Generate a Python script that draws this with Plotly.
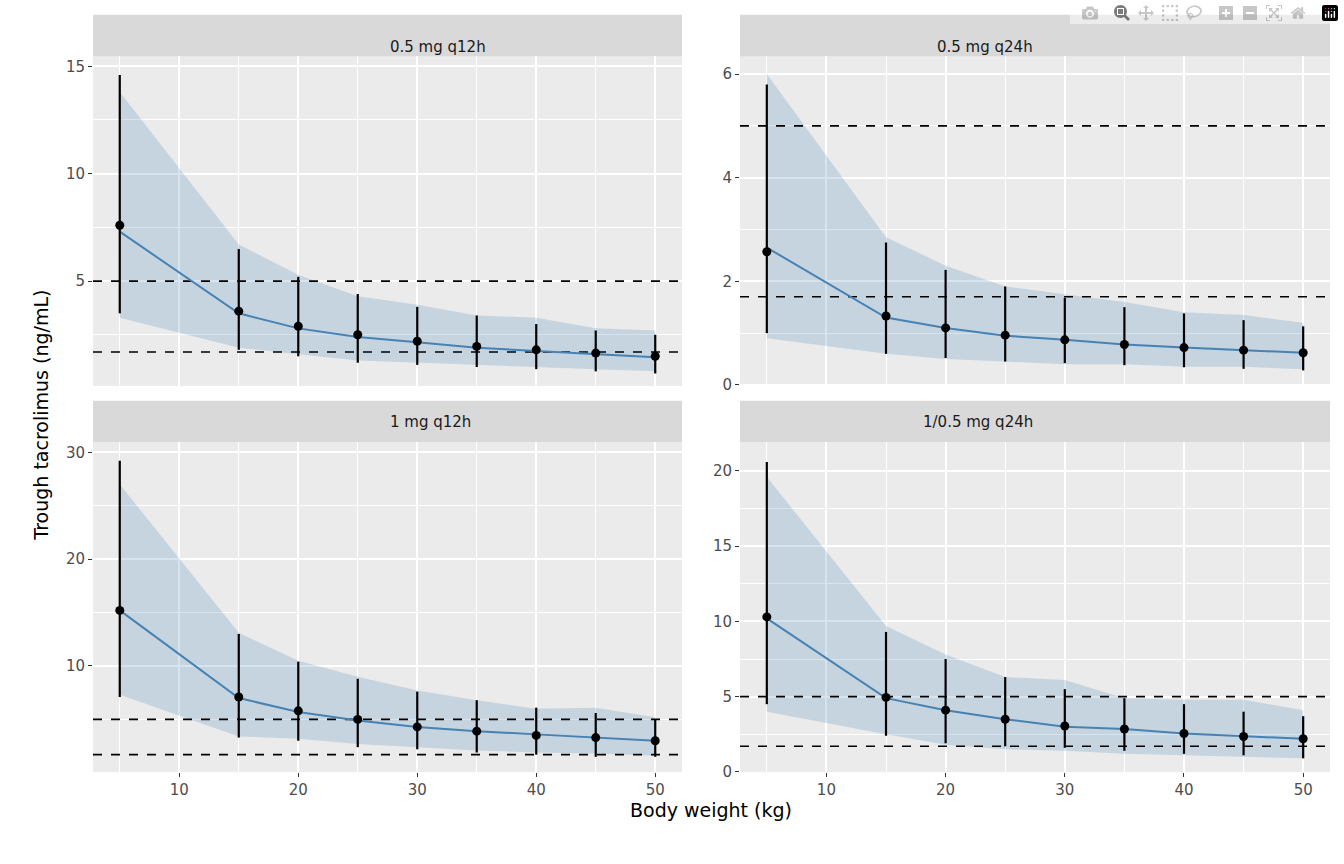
import plotly.graph_objects as go

weights = [5, 15, 20, 25, 30, 35, 40, 45, 50]
panels = ["0.5 mg q12h", "0.5 mg q24h", "1 mg q12h", "1/0.5 mg q24h"]

median = {
    "0.5 mg q12h": [7.6, 3.6, 2.9, 2.5, 2.2, 1.96, 1.8, 1.65, 1.5],
    "0.5 mg q24h": [2.57, 1.33, 1.1, 0.96, 0.87, 0.78, 0.72, 0.67, 0.62],
    "1 mg q12h": [15.2, 7.1, 5.8, 5.0, 4.3, 3.9, 3.5, 3.3, 3.0],
    "1/0.5 mg q24h": [10.3, 4.95, 4.1, 3.5, 3.05, 2.85, 2.55, 2.35, 2.2],
}
bar_lo = {
    "0.5 mg q12h": [3.5, 1.8, 1.5, 1.2, 1.1, 1.0, 0.9, 0.8, 0.7],
    "0.5 mg q24h": [1.0, 0.6, 0.52, 0.45, 0.42, 0.38, 0.34, 0.31, 0.28],
    "1 mg q12h": [7.1, 3.3, 3.0, 2.4, 2.2, 1.9, 1.7, 1.5, 1.5],
    "1/0.5 mg q24h": [4.5, 2.4, 1.9, 1.7, 1.6, 1.4, 1.2, 1.1, 0.9],
}
bar_hi = {
    "0.5 mg q12h": [14.6, 6.5, 5.2, 4.4, 3.8, 3.4, 3.0, 2.7, 2.5],
    "0.5 mg q24h": [5.8, 2.75, 2.22, 1.9, 1.68, 1.5, 1.38, 1.25, 1.13],
    "1 mg q12h": [29.2, 13.0, 10.4, 8.8, 7.6, 6.8, 6.1, 5.6, 5.0],
    "1/0.5 mg q24h": [20.6, 9.3, 7.5, 6.3, 5.5, 4.9, 4.5, 4.0, 3.7],
}
line_val = {
    "0.5 mg q12h": [7.3, 3.5, 2.8, 2.4, 2.15, 1.9, 1.75, 1.6, 1.45],
    "0.5 mg q24h": [2.65, 1.3, 1.1, 0.95, 0.87, 0.78, 0.72, 0.67, 0.62],
    "1 mg q12h": [15.2, 7.0, 5.7, 4.9, 4.3, 3.9, 3.6, 3.3, 3.0],
    "1/0.5 mg q24h": [10.2, 4.9, 4.1, 3.5, 3.0, 2.85, 2.55, 2.35, 2.2],
}
rib_lo = {
    "0.5 mg q12h": [3.3, 1.9, 1.6, 1.3, 1.2, 1.1, 1.0, 0.9, 0.8],
    "0.5 mg q24h": [0.9, 0.6, 0.5, 0.45, 0.4, 0.4, 0.35, 0.35, 0.3],
    "1 mg q12h": [7.3, 3.4, 3.2, 2.7, 2.4, 2.1, 1.9, 1.8, 1.6],
    "1/0.5 mg q24h": [4.0, 2.5, 1.8, 1.5, 1.4, 1.2, 1.1, 1.0, 0.9],
}
rib_hi = {
    "0.5 mg q12h": [13.8, 6.7, 5.3, 4.3, 3.9, 3.4, 3.3, 2.8, 2.7],
    "0.5 mg q24h": [6.0, 2.85, 2.3, 1.9, 1.75, 1.6, 1.4, 1.35, 1.2],
    "1 mg q12h": [27.0, 13.1, 10.5, 9.0, 7.7, 6.8, 6.0, 6.1, 5.2],
    "1/0.5 mg q24h": [19.6, 9.7, 7.8, 6.3, 6.1, 4.9, 4.8, 4.8, 4.1],
}
targets = [5, 1.7]
y_ranges = {"0.5 mg q12h": [0.12, 15.46], "0.5 mg q24h": [-0.02, 6.34],
            "1 mg q12h": [0.09, 30.93], "1/0.5 mg q24h": [0.0, 21.9]}
y_dticks = {"0.5 mg q12h": 5, "0.5 mg q24h": 2, "1 mg q12h": 10, "1/0.5 mg q24h": 5}

W, H = 1344, 864
px = [(93, 682), (740, 1330)]
py = [(57, 390), (447, 780)]
strips = [(15, 57), (405, 447)]

fig = go.Figure()
layout = dict(width=W, height=H, margin=dict(l=0, r=0, t=0, b=0),
              paper_bgcolor="white", plot_bgcolor="#ebebeb", showlegend=False,
              font=dict(family="DejaVu Sans", size=15, color="#4d4d4d"))
shapes, annotations = [], []
for i, p in enumerate(panels):
    r, c = divmod(i, 2)
    n = i + 1
    xa = "x" if n == 1 else f"x{n}"
    ya = "y" if n == 1 else f"y{n}"
    xd = [px[c][0] / W, px[c][1] / W]
    yd = [1 - py[r][1] / H, 1 - py[r][0] / H]
    layout["xaxis" if n == 1 else f"xaxis{n}"] = dict(
        domain=xd, anchor=ya, range=[2.75, 52.25], tick0=0, dtick=10,
        showgrid=True, gridcolor="white", gridwidth=1.6, zeroline=False,
        minor=dict(dtick=5, tick0=0, showgrid=True, gridcolor="white", gridwidth=0.7),
        showticklabels=(r == 1), ticks="outside" if r == 1 else "", ticklen=4,
        tickcolor="#333333", tickfont=dict(size=15, color="#4d4d4d"))
    dt = y_dticks[p]
    layout["yaxis" if n == 1 else f"yaxis{n}"] = dict(
        domain=yd, anchor=xa, range=y_ranges[p], tick0=0, dtick=dt,
        showgrid=True, gridcolor="white", gridwidth=1.6, zeroline=False,
        minor=dict(dtick=dt / 2, tick0=0, showgrid=True, gridcolor="white", gridwidth=0.7),
        ticks="outside", ticklen=4, tickcolor="#333333",
        tickfont=dict(size=15, color="#4d4d4d"))
    fig.add_trace(go.Scatter(x=weights + weights[::-1], y=rib_hi[p] + rib_lo[p][::-1],
                             fill="toself", fillcolor="rgba(70,130,180,0.22)",
                             line=dict(width=0), mode="lines", xaxis=xa, yaxis=ya,
                             hoverinfo="skip"))
    for t in targets:
        fig.add_trace(go.Scatter(x=[2.75, 52.25], y=[t, t], mode="lines",
                                 line=dict(color="black", width=1.6, dash="dash"),
                                 xaxis=xa, yaxis=ya))
    fig.add_trace(go.Scatter(x=weights, y=line_val[p], mode="lines",
                             line=dict(color="#4682b4", width=2), xaxis=xa, yaxis=ya))
    fig.add_trace(go.Scatter(
        x=weights, y=median[p], mode="markers",
        marker=dict(color="black", size=9),
        error_y=dict(type="data", symmetric=False,
                     array=[h - m for h, m in zip(bar_hi[p], median[p])],
                     arrayminus=[m - l for m, l in zip(median[p], bar_lo[p])],
                     color="black", thickness=2.2, width=0),
        xaxis=xa, yaxis=ya))
    s0, s1 = strips[r]
    shapes.append(dict(type="rect", xref="paper", yref="paper", x0=xd[0], x1=xd[1],
                       y0=1 - s1 / H, y1=1 - s0 / H, fillcolor="#d9d9d9", line=dict(width=0),
                       layer="below"))
    annotations.append(dict(text=p, xref="paper", yref="paper", x=(xd[0] + xd[1]) / 2,
                            y=1 - (s0 + s1) / 2 / H, showarrow=False,
                            font=dict(size=15, color="#1a1a1a")))
annotations.append(dict(text="Body weight (kg)", xref="paper", yref="paper",
                        x=711 / W, y=1 - 832 / H, showarrow=False,
                        font=dict(size=19, color="black")))
annotations.append(dict(text="Trough tacrolimus (ng/mL)", xref="paper", yref="paper",
                        x=28 / W, y=1 - 420 / H, showarrow=False, textangle=-90,
                        font=dict(size=19, color="black")))
layout["shapes"] = shapes
layout["annotations"] = annotations
fig.update_layout(**layout)
fig.write_html("out.html", post_script="document.body.style.margin='0';")
